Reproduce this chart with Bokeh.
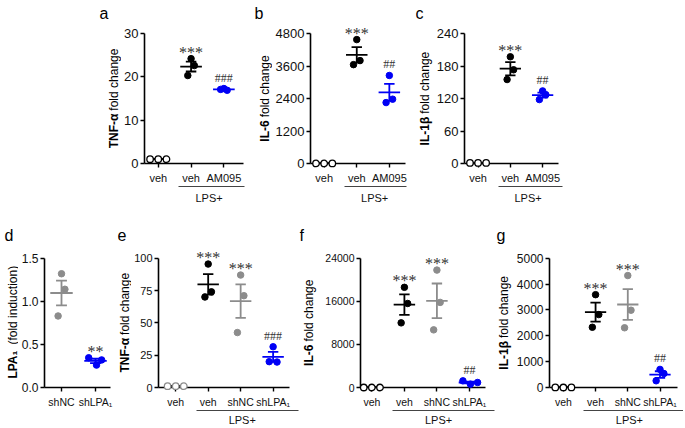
import numpy as np
from bokeh.plotting import figure
from bokeh.models import (FixedTicker, LinearAxis, LabelSet,
                          ColumnDataSource, Range1d, PrintfTickFormatter)
from bokeh.core.properties import value
from bokeh.layouts import column, row
from bokeh.embed import file_html
from bokeh.resources import INLINE

# ---------------- data ----------------
# a  TNF-alpha fold change
a_categories = ["veh", "veh", "AM095"]
a_veh = [1.0, 1.0, 1.0]
a_lps_veh = [24.2, 22.6, 20.3]
a_lps_am095 = [17.3, 16.9, 17.1]
a_yticks = [0, 10, 20, 30]
a_marks = ["", "***", "###"]

# b  IL-6 fold change
b_categories = ["veh", "veh", "AM095"]
b_veh = [1.0, 1.0, 1.0]
b_lps_veh = [4575, 3800, 3650]
b_lps_am095 = [3250, 2375, 2250]
b_yticks = [0, 1200, 2400, 3600, 4800]
b_marks = ["", "***", "##"]

# c  IL-1beta fold change
c_categories = ["veh", "veh", "AM095"]
c_veh = [1.0, 1.0, 1.0]
c_lps_veh = [197, 173, 155]
c_lps_am095 = [134, 127, 118]
c_yticks = [0, 60, 120, 180, 240]
c_marks = ["", "***", "##"]

# d  LPA1 (fold induction)
d_categories = ["shNC", "shLPA₁"]
d_shnc = [1.32, 1.14, 0.83]
d_shlpa1 = [0.345, 0.32, 0.26]
d_yticks = [0.0, 0.5, 1.0, 1.5]
d_marks = ["", "**"]

# e  TNF-alpha fold change
e_categories = ["veh", "veh", "shNC", "shLPA₁"]
e_veh = [1.0, 1.0, 1.0]
e_lps_veh = [95.5, 74.0, 70.0]
e_lps_shnc = [87.0, 71.0, 42.5]
e_lps_shlpa1 = [31.5, 20.0, 19.7]
e_yticks = [0, 25, 50, 75, 100]
e_marks = ["", "***", "***", "###"]

# f  IL-6 fold change
f_categories = ["veh", "veh", "shNC", "shLPA₁"]
f_veh = [1.0, 1.0, 1.0]
f_lps_veh = [18600, 15600, 12000]
f_lps_shnc = [21800, 15800, 10700]
f_lps_shlpa1 = [1230, 620, 930]
f_yticks = [0, 8000, 16000, 24000]
f_marks = ["", "***", "***", "##"]

# g  IL-1beta fold change
g_categories = ["veh", "veh", "shNC", "shLPA₁"]
g_veh = [1.0, 1.0, 1.0]
g_lps_veh = [3590, 2820, 2330]
g_lps_shnc = [4330, 2990, 2310]
g_lps_shlpa1 = [700, 540, 260]
g_yticks = [0, 1000, 2000, 3000, 4000, 5000]
g_marks = ["", "***", "***", "##"]

# ---------------- styles / geometry ----------------
BLACK = "#000000"
GRAY = "#8c8c8c"
BLUE = "#0000f5"
FONT = "Liberation Sans"
CTRL_JIT = [-0.25, 0.0, 0.25]
JIT = [0.0, 0.1, -0.1]

STYLE = {
    "open_black": dict(color=BLACK, fill="white", line=BLACK),
    "open_gray": dict(color=GRAY, fill="white", line=BLACK),
    "black": dict(color=BLACK, fill=BLACK, line=BLACK),
    "gray": dict(color=GRAY, fill=GRAY, line=GRAY),
    "blue": dict(color=BLUE, fill=BLUE, line=BLUE),
}

REG_W = {' ': .278, 'f': .278, 'o': .556, 'l': .222, 'd': .556, 'c': .5, 'h': .556,
         'a': .556, 'n': .556, 'g': .556, 'e': .556, '(': .333, ')': .333, 'i': .222,
         'u': .556, 't': .278}
BOLD_W = {'T': .611, 'N': .722, 'F': .611, '-': .333, 'α': .62, 'I': .278, 'L': .611,
          '6': .556, '1': .556, 'β': .6, 'P': .667, 'A': .722, '₁': .42}

# frame = whole height above the x axis; pad = room above the top tick
TOP_ROW = dict(Hf=163, B=47, pad=33, letter_base=13, lps_standoff=5)
BOT_ROW = dict(Hf=178, B=40, pad=48, letter_base=25, lps_standoff=3)
TITLE_FS = 12


def text_w(s, table, fs):
    return sum(table.get(ch, .556) for ch in s) * fs


def bare(fig):
    fig.outline_line_color = None
    fig.grid.visible = False
    fig.background_fill_color = "white"
    fig.border_fill_color = "white"


def make_strip(letter, ybold, ynormal, rg, geo):
    """narrow figure holding the panel letter and the y-axis title"""
    Hf, B = rg["Hf"], rg["B"]
    w = geo["sw"]
    s = figure(width=w, height=Hf + B, x_range=Range1d(0, w), y_range=Range1d(0, Hf),
               min_border_left=0, min_border_right=0, min_border_top=0,
               min_border_bottom=B, x_axis_location=None, y_axis_location=None,
               output_backend="svg", toolbar_location=None, tools="")
    bare(s)
    fs = TITLE_FS
    gap = geo.get("gap", 3)
    bw = text_w(ybold, BOLD_W, fs)
    nw = text_w(ynormal, REG_W, fs)
    center = (Hf - rg["pad"]) / 2
    jy = center - (bw + gap + nw) / 2 + bw
    s.text(x=[geo["tx"]], y=[jy], text=[ybold], angle=np.pi / 2,
           text_align="right", text_baseline="middle",
           text_font=value(FONT), text_font_style="bold",
           text_font_size=value(f"{fs}px"), text_color=BLACK)
    s.text(x=[geo["tx"]], y=[jy + gap], text=[ynormal], angle=np.pi / 2,
           text_align="left", text_baseline="middle",
           text_font=value(FONT), text_font_size=value(f"{fs}px"),
           text_color=BLACK)
    s.text(x=[geo["lx"]], y=[Hf - rg["letter_base"]], text=[letter],
           text_align="left", text_baseline="alphabetic",
           text_font=value(FONT), text_font_size=value("16px"), text_color=BLACK)
    return s


def make_panel(cats, groups, yticks, marks, rg, geo, lps=True, yfmt=None):
    Hf, B, pad = rg["Hf"], rg["B"], rg["pad"]
    L, ppu, xs0, xend_axis, ext = geo["L"], geo["ppu"], geo["x0"], geo["xa"], geo["ext"]
    W = int(round((xend_axis + ext - xs0) * ppu))
    xr_end = xs0 + W / ppu
    top = yticks[-1]
    y_end = top * Hf / (Hf - pad)
    p = figure(width=L + W, height=Hf + B,
               min_border_left=L, min_border_right=0,
               min_border_top=0, min_border_bottom=B,
               x_range=Range1d(xs0, xr_end), y_range=Range1d(0, y_end),
               output_backend="svg", toolbar_location=None, tools="")
    bare(p)

    ya = p.yaxis[0]
    ya.ticker = FixedTicker(ticks=yticks)
    ya.bounds = (0, top)
    if yfmt:
        ya.formatter = PrintfTickFormatter(format=yfmt)
    xa = p.xaxis[0]
    xa.ticker = FixedTicker(ticks=list(range(len(cats))))
    xa.major_label_overrides = {i: c for i, c in enumerate(cats)}
    xa.bounds = (xs0, xend_axis)
    for ax in (xa, ya):
        ax.axis_line_width = 1.6
        ax.axis_line_color = BLACK
        ax.major_tick_line_width = 1.4
        ax.major_tick_out = 4
        ax.major_tick_in = 0
        ax.minor_tick_out = 0
        ax.minor_tick_in = 0
        ax.major_label_text_font = FONT
        ax.major_label_text_color = "#111111"
    ya.major_label_standoff = 2
    ya.major_label_text_font_size = f"{geo['tfs']}px"
    xa.major_label_text_font_size = f"{geo.get('xfs', 11)}px"
    xa.major_label_standoff = 4

    if lps:
        n = len(cats)
        center = (1 + (n - 1)) / 2 + 0.05
        lax = LinearAxis(ticker=FixedTicker(ticks=[center]),
                         major_label_overrides={center: "LPS+"},
                         bounds=(0.63, geo["lps_end"]),
                         major_tick_out=0, major_tick_in=0,
                         minor_tick_out=0, minor_tick_in=0,
                         axis_line_color="#444444", axis_line_width=1,
                         major_label_standoff=rg["lps_standoff"],
                         major_label_text_font=FONT,
                         major_label_text_font_size="11px",
                         major_label_text_color="#111111")
        p.add_layout(lax, "below")

    seg = dict(x0=[], x1=[], y0=[], y1=[], c=[])
    star = dict(x=[], y=[], t=[])
    hsh = dict(x=[], y=[], t=[])
    for gi, (vals, st, jit) in enumerate(groups):
        s = STYLE[st]
        vals = np.asarray(vals, dtype=float)
        m = vals.mean()
        se = vals.std(ddof=1) / np.sqrt(len(vals))
        lc = s["line"]
        for (a0, a1, b0, b1) in [(gi - 0.33, gi + 0.33, m, m),
                                 (gi, gi, m - se, m + se),
                                 (gi - 0.16, gi + 0.16, m + se, m + se),
                                 (gi - 0.16, gi + 0.16, m - se, m - se)]:
            seg["x0"].append(a0); seg["x1"].append(a1)
            seg["y0"].append(b0); seg["y1"].append(b1)
            seg["c"].append(lc)
        xs = [gi + j for j in jit]
        p.scatter(xs, list(vals), marker="circle", size=6.5,
                  fill_color=s["fill"], line_color=s["color"],
                  line_width=1.3 if s["fill"] == "white" else 1,
                  level="overlay")
        mk = marks[gi]
        if mk.startswith("*"):
            star["x"].append(gi); star["y"].append(vals.max()); star["t"].append(mk)
        elif mk.startswith("#"):
            hsh["x"].append(gi); hsh["y"].append(vals.max()); hsh["t"].append(mk)
    p.segment("x0", "y0", "x1", "y1", source=ColumnDataSource(seg),
              line_color="c", line_width=1.8)

    p.add_layout(LabelSet(x="x", y="y", text="t", source=ColumnDataSource(star),
                          text_align="center", text_baseline="alphabetic",
                          y_offset=1, text_font="DejaVu Sans",
                          text_font_size="16px", text_color="#333333"))
    p.add_layout(LabelSet(x="x", y="y", text="t", source=ColumnDataSource(hsh),
                          text_align="center", text_baseline="alphabetic",
                          y_offset=7, text_font=FONT,
                          text_font_size="12px", text_color="#333333"))
    return p


# ---- top row ----
sa = make_strip("a", "TNF-α", "fold change", TOP_ROW, dict(sw=121, tx=113.5, lx=99))
pa = make_panel(a_categories,
                [(a_veh, "open_black", CTRL_JIT), (a_lps_veh, "black", JIT),
                 (a_lps_am095, "blue", JIT)], a_yticks, a_marks, TOP_ROW,
                dict(L=22, ppu=33.1, x0=-0.42, xa=2.6, ext=0.3, lps_end=2.62, tfs=13))
sb = make_strip("b", "IL-6", "fold change", TOP_ROW, dict(sw=19, tx=11, lx=1))
pb = make_panel(b_categories,
                [(b_veh, "open_black", CTRL_JIT), (b_lps_veh, "black", JIT),
                 (b_lps_am095, "blue", JIT)], b_yticks, b_marks, TOP_ROW,
                dict(L=36, ppu=33.2, x0=-0.42, xa=2.5, ext=0.3, lps_end=2.52, tfs=13))
sc = make_strip("c", "IL-1β", "fold change", TOP_ROW, dict(sw=18, tx=9, lx=0))
pc = make_panel(c_categories,
                [(c_veh, "open_black", CTRL_JIT), (c_lps_veh, "black", JIT),
                 (c_lps_am095, "blue", JIT)], c_yticks, c_marks, TOP_ROW,
                dict(L=29, ppu=32.9, x0=-0.42, xa=2.5, ext=0.3, lps_end=2.62, tfs=13))

# ---- bottom row ----
sd = make_strip("d", "LPA₁", "(fold induction)", BOT_ROW,
                dict(sw=18, tx=12, lx=4, gap=6))
pd_ = make_panel(d_categories,
                 [(d_shnc, "gray", JIT), (d_shlpa1, "blue", [-0.2, 0.18, 0.03])],
                 d_yticks, d_marks, BOT_ROW,
                 dict(L=26, ppu=34, x0=-0.5, xa=1.44, ext=0.2, tfs=12, xfs=10.5),
                 lps=False, yfmt="%.1f")
se_ = make_strip("e", "TNF-α", "fold change", BOT_ROW, dict(sw=14, tx=7.5, lx=0))
pe = make_panel(e_categories,
                [(e_veh, "open_gray", CTRL_JIT), (e_lps_veh, "black", JIT),
                 (e_lps_shnc, "gray", JIT), (e_lps_shlpa1, "blue", [0.0, -0.12, 0.12])],
                e_yticks, e_marks, BOT_ROW,
                dict(L=26, ppu=32.7, x0=-0.53, xa=3.5, ext=0.3, lps_end=3.77,
                     tfs=11, xfs=10.5))
sf = make_strip("f", "IL-6", "fold change", BOT_ROW, dict(sw=23, tx=9, lx=0))
pf = make_panel(f_categories,
                [(f_veh, "open_black", CTRL_JIT), (f_lps_veh, "black", JIT),
                 (f_lps_shnc, "gray", JIT), (f_lps_shlpa1, "blue", [-0.2, 0.03, 0.25])],
                f_yticks, f_marks, BOT_ROW,
                dict(L=36, ppu=33, x0=-0.35, xa=3.5, ext=0.3, lps_end=3.77,
                     tfs=10.5, xfs=10.5))
sg = make_strip("g", "IL-1β", "fold change", BOT_ROW, dict(sw=18, tx=8, lx=1))
pg = make_panel(g_categories,
                [(g_veh, "open_black", CTRL_JIT), (g_lps_veh, "black", JIT),
                 (g_lps_shnc, "gray", JIT), (g_lps_shlpa1, "blue", [0.0, 0.12, -0.12])],
                g_yticks, g_marks, BOT_ROW,
                dict(L=34, ppu=32.7, x0=-0.43, xa=3.54, ext=0.2, lps_end=3.74,
                     tfs=12, xfs=10.5))

layout = column(row(sa, pa, sb, pb, sc, pc),
                row(sd, pd_, se_, pe, sf, pf, sg, pg))
open("out.html", "w").write(file_html(layout, INLINE))
